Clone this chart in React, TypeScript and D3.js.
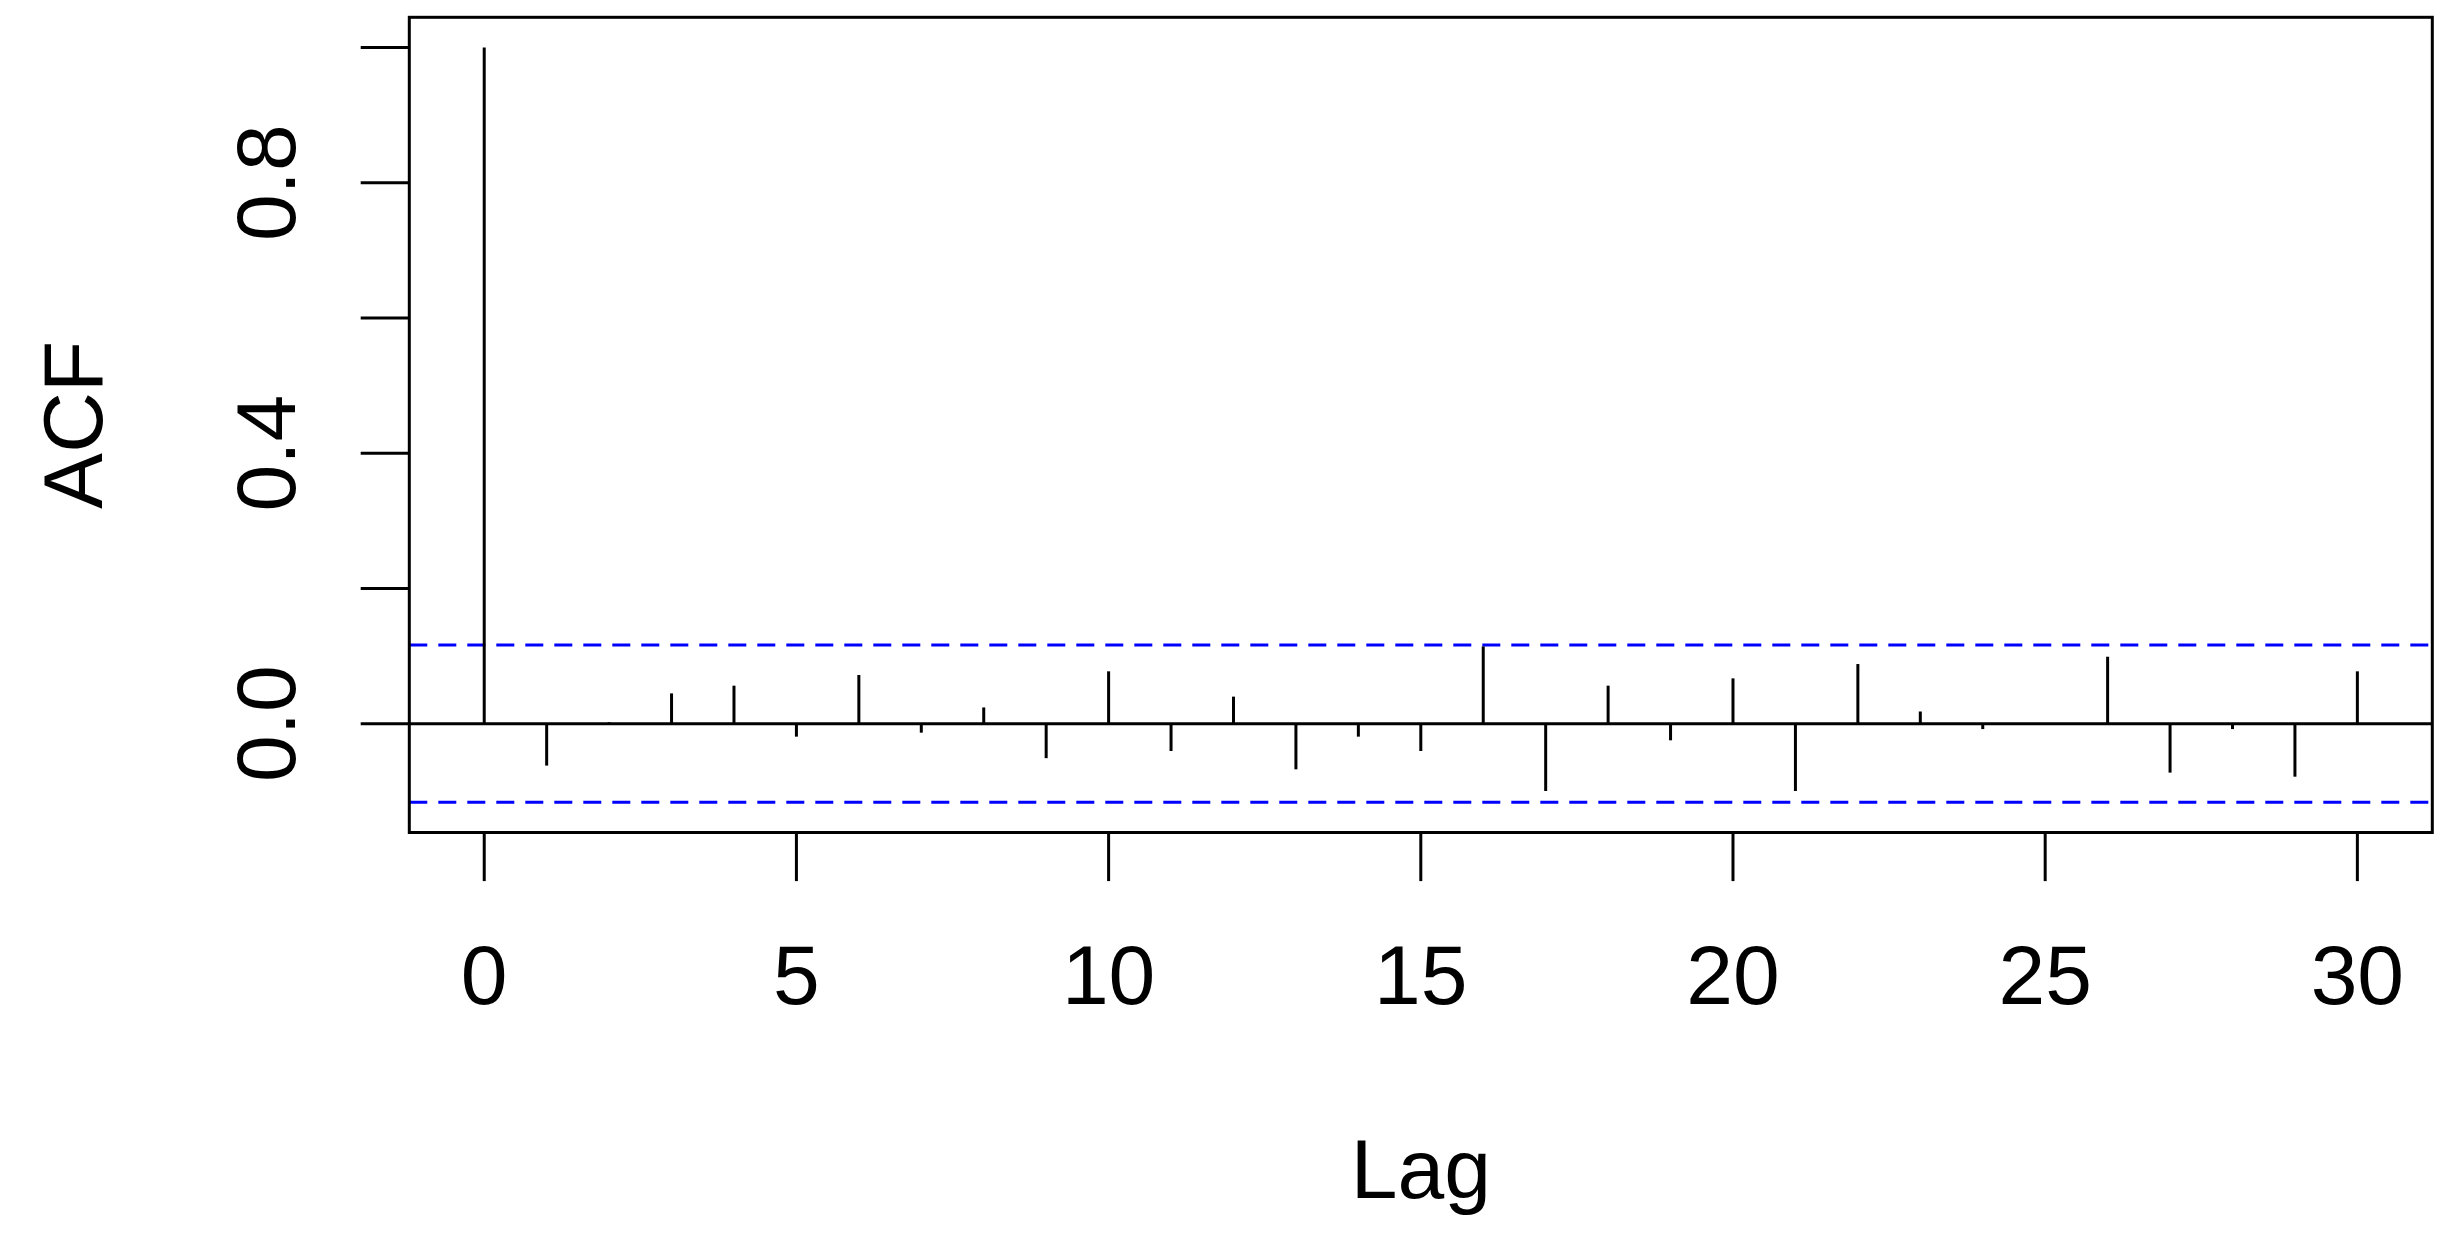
import React from "react";
import * as d3 from "d3";

const lags: number[] = [
  0, 1, 2, 3, 4, 5, 6, 7, 8, 9, 10, 11, 12, 13, 14, 15, 16, 17, 18, 19, 20,
  21, 22, 23, 24, 25, 26, 27, 28, 29, 30,
];
const acfValues: number[] = [
  1.0, -0.062, 0.002, 0.0448, 0.0562, -0.0192, 0.072, -0.0133, 0.024, -0.051,
  0.0774, -0.0404, 0.04, -0.0675, -0.0192, -0.0404, 0.1143, -0.0996, 0.0562,
  -0.0246, 0.067, -0.0996, 0.0882, 0.018, -0.008, -0.001, 0.099, -0.0724,
  -0.008, -0.0784, 0.0774,
];
const confLimit = 0.1163;
const xTicks: number[] = [0, 5, 10, 15, 20, 25, 30];
const yTicks: number[] = [0, 0.2, 0.4, 0.6, 0.8, 1.0];
const yTickLabels: string[] = ["0.0", "", "0.4", "", "0.8", ""];
const xLabel = "Lag";
const yLabel = "ACF";

export default function App() {
  const W = 2452;
  const H = 1244;
  const left = 409.3;
  const right = 2432.3;
  const top = 17.3;
  const bottom = 832.5;
  const lw = 3;
  const font = "'Liberation Sans', Arial, Helvetica, sans-serif";
  const fs = 84;

  const xMin = d3.min(lags)!;
  const xMax = d3.max(lags)!;
  const xExt = 0.04 * (xMax - xMin);
  const x = d3.scaleLinear().domain([xMin - xExt, xMax + xExt]).range([left, right]);

  const yLo = Math.min(-confLimit, d3.min(acfValues)!);
  const yHi = Math.max(confLimit, d3.max(acfValues)!);
  const yExt = 0.04 * (yHi - yLo);
  const y = d3.scaleLinear().domain([yLo - yExt, yHi + yExt]).range([bottom, top]);

  const tickLen = 48.6;

  return (
    <svg
      width={W}
      height={H}
      viewBox={`0 0 ${W} ${H}`}
      style={{ position: "absolute", left: 0, top: 0, display: "block", background: "#fff" }}
    >
      <rect x={0} y={0} width={W} height={H} fill="#fff" />
      {/* zero line */}
      <line x1={left} x2={right} y1={y(0)} y2={y(0)} stroke="#000" strokeWidth={lw} />
      {/* confidence limits */}
      {[confLimit, -confLimit].map((c, i) => (
        <line
          key={"ci" + i}
          x1={left}
          x2={right}
          y1={y(c)}
          y2={y(c)}
          stroke="#0000FF"
          strokeWidth={lw}
          strokeDasharray="18 11"
        />
      ))}
      {/* spikes */}
      {lags.map((lag, i) => (
        <line
          key={"s" + lag}
          x1={x(lag)}
          x2={x(lag)}
          y1={y(0)}
          y2={y(acfValues[i])}
          stroke="#000"
          strokeWidth={lw}
        />
      ))}
      {/* box */}
      <rect
        x={left}
        y={top}
        width={right - left}
        height={bottom - top}
        fill="none"
        stroke="#000"
        strokeWidth={lw}
      />
      {/* x axis */}
      {xTicks.map((t) => (
        <g key={"xt" + t}>
          <line x1={x(t)} x2={x(t)} y1={bottom} y2={bottom + tickLen} stroke="#000" strokeWidth={lw} />
          <text
            x={x(t)}
            y={1004}
            textAnchor="middle"
            fontFamily={font}
            fontSize={fs}
            fill="#000"
          >
            {t}
          </text>
        </g>
      ))}
      {/* y axis */}
      {yTicks.map((t, i) => (
        <g key={"yt" + i}>
          <line x1={left - tickLen} x2={left} y1={y(t)} y2={y(t)} stroke="#000" strokeWidth={lw} />
          {yTickLabels[i] !== "" && (
            <text
              transform={`translate(295,${y(t)}) rotate(-90)`}
              textAnchor="middle"
              fontFamily={font}
              fontSize={fs}
              fill="#000"
            >
              {yTickLabels[i]}
            </text>
          )}
        </g>
      ))}
      <text
        x={(left + right) / 2}
        y={1197.7}
        textAnchor="middle"
        fontFamily={font}
        fontSize={fs}
        fill="#000"
      >
        {xLabel}
      </text>
      <text
        transform={`translate(102,${(top + bottom) / 2}) rotate(-90)`}
        textAnchor="middle"
        fontFamily={font}
        fontSize={fs}
        fill="#000"
      >
        {yLabel}
      </text>
    </svg>
  );
}
